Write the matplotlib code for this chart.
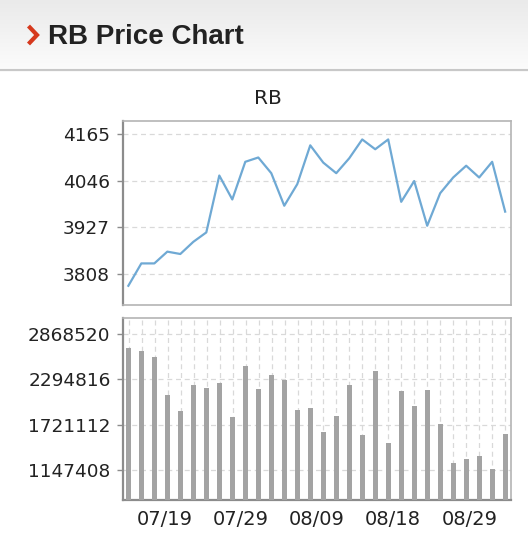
import numpy as np
import matplotlib
matplotlib.use("Agg")
import matplotlib.pyplot as plt
from matplotlib.lines import Line2D

# ---------------- data ----------------
symbol = "RB"
price = [3778, 3835, 3835, 3865, 3859, 3890, 3914, 4059, 3998, 4094,
         4105, 4065, 3982, 4037, 4136, 4092, 4065, 4103, 4151, 4126,
         4151, 3992, 4045, 3931, 4014, 4054, 4084, 4054, 4094, 3967]
volume = [2699376, 2661319, 2576747, 2094686, 1895942, 2221544, 2183487,
          2246916, 1824056, 2462574, 2175030, 2348402, 2293430, 1912856,
          1933999, 1629540, 1832513, 2225773, 1587254, 2399145, 1494225,
          2153887, 1959371, 2162344, 1731027, 1232052, 1291252, 1320852,
          1155937, 1608397]
price_ticks = [3808, 3927, 4046, 4165]
volume_ticks = [1147408, 1721112, 2294816, 2868520]
date_labels = ["07/19", "07/29", "08/09", "08/18", "08/29"]
date_label_pos = [2.8, 8.65, 14.5, 20.35, 26.25]

# ---------------- figure ----------------
W, H = 528, 558
fig = plt.figure(figsize=(W / 100, H / 100), dpi=100)
fig.patch.set_facecolor("white")

def fx(px):
    return px / W

def fy(py):
    return 1 - py / H

# header gradient
hdr = fig.add_axes([0, fy(68), 1, 68 / H])
grad = np.linspace(0.918, 0.985, 64).reshape(-1, 1)
hdr.imshow(np.dstack([grad, grad, grad]), aspect="auto", extent=[0, 1, 0, 1],
           origin="upper")
hdr.set_axis_off()
fig.add_artist(Line2D([0, 1], [fy(69.5), fy(69.5)], color="#c8c8c8", lw=1.6,
                      transform=fig.transFigure))

# red chevron
fig.add_artist(Line2D([fx(28.5), fx(37), fx(28.5)], [fy(26), fy(35), fy(44)],
                      color="#d6391d", lw=3.0, solid_joinstyle="miter",
                      solid_capstyle="butt", transform=fig.transFigure))
fig.text(fx(47.5), fy(44.5), "RB Price Chart", family="Liberation Sans",
         weight="bold", fontsize=20, color="#222222", va="baseline", ha="left")

fig.text(fx(267.5), fy(104.5), symbol, family="DejaVu Sans", fontsize=14.5,
         color="#222222", ha="center", va="baseline")

x = np.arange(len(price))
frame_col = "#b4b4b4"
axis_col = "#8c8c8c"
grid_kw = dict(color="#d9d9d9", linestyle=(0, (4, 3)), linewidth=0.9)

def style(ax):
    for s in ax.spines.values():
        s.set_color(frame_col)
        s.set_linewidth(1.2)
    ax.spines["left"].set_color(axis_col)
    ax.spines["left"].set_linewidth(1.6)
    ax.tick_params(axis="y", direction="out", length=4, width=1, color=axis_col,
                   labelsize=13.3, labelcolor="#222222", pad=5)
    ax.set_xlim(-0.45, 29.45)

# price axes
ax1 = fig.add_axes([fx(122.5), fy(305), fx(511) - fx(122.5), (305 - 121) / H])
ax1.plot(x, price, color="#6fa9d4", lw=1.6)
ax1.set_ylim(3729, 4198)
ax1.set_yticks(price_ticks)
ax1.set_yticklabels([str(v) for v in price_ticks])
ax1.set_xticks([])
ax1.yaxis.grid(True, **grid_kw)
ax1.set_axisbelow(True)
style(ax1)

# volume axes
ax2 = fig.add_axes([fx(123), fy(500), fx(511) - fx(123), (500 - 318) / H])
ax2.bar(x, volume, width=0.4, color="#a3a3a3", zorder=3)
ax2.set_ylim(765000, 3075000)
ax2.set_yticks(volume_ticks)
ax2.set_yticklabels([str(v) for v in volume_ticks])
ax2.set_xticks(x, minor=True)
ax2.set_xticks(date_label_pos)
ax2.set_xticklabels(date_labels)
ax2.yaxis.grid(True, **grid_kw)
ax2.xaxis.grid(True, which="minor", **grid_kw)
ax2.xaxis.grid(False, which="major")
ax2.set_axisbelow(True)
style(ax2)
ax2.tick_params(axis="x", which="both", length=0, labelsize=14,
                labelcolor="#222222", pad=7)
ax2.spines["bottom"].set_color(axis_col)
ax2.spines["bottom"].set_linewidth(1.6)

fig.savefig("out.png", dpi=100)
